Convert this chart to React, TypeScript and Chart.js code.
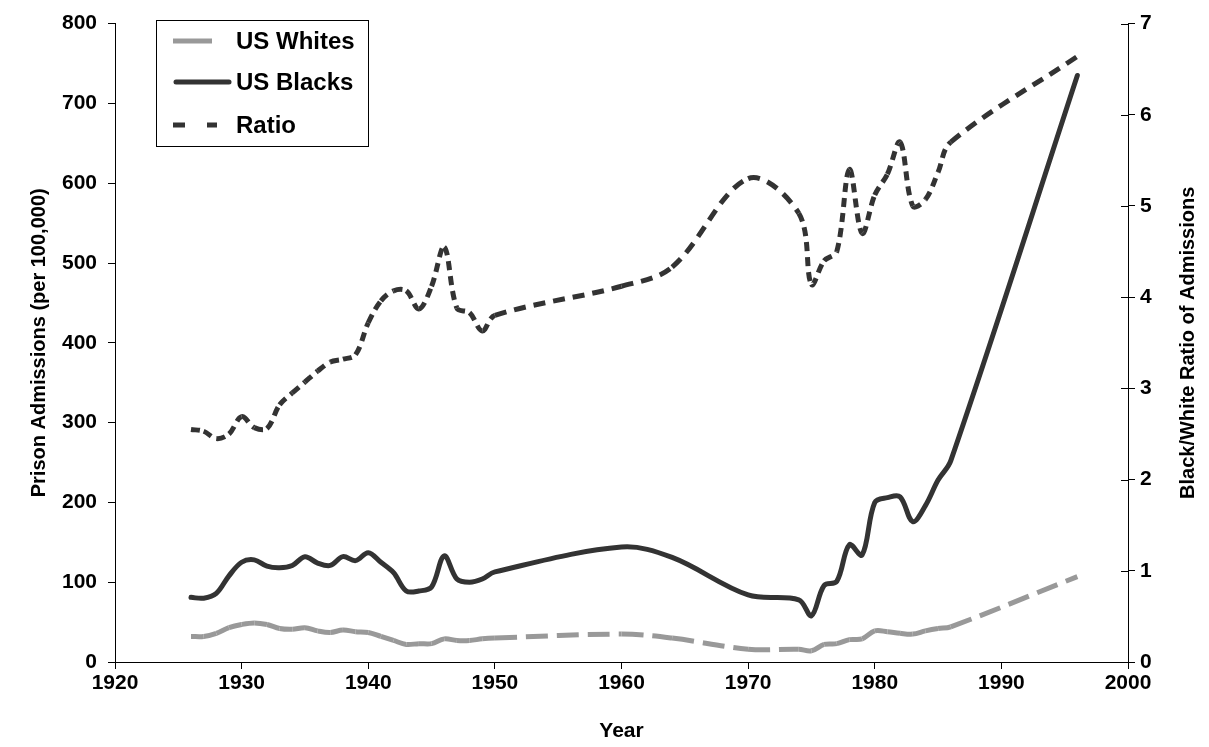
import React, { useEffect, useRef } from "react";
import { Chart, registerables } from "chart.js";

Chart.register(...registerables);

// Years with observations (yearly 1926-1950, sparse afterwards)
const years = [
  1926, 1927, 1928, 1929, 1930, 1931, 1932, 1933, 1934, 1935, 1936, 1937, 1938,
  1939, 1940, 1941, 1942, 1943, 1944, 1945, 1946, 1947, 1948, 1949, 1950,
  1960, 1964, 1970, 1974, 1975, 1976, 1977, 1978, 1979, 1980, 1981, 1982, 1983,
  1984, 1985, 1986, 1996,
];

// Prison admissions per 100,000 — US Blacks
const usBlacks = [
  81, 80, 86, 108, 125, 128, 120, 118, 121, 132, 124, 121, 132,
  127, 137, 125, 112, 89, 89, 94, 133, 104, 100, 104, 113,
  144, 131, 84, 78, 58, 96, 101, 147, 134, 200, 206, 207, 176,
  196, 228, 252, 735,
];

// Prison admissions per 100,000 — US Whites
const usWhites = [
  32, 32, 36, 43, 47, 49, 47, 42, 41, 43, 39, 37, 40,
  38, 37, 32, 27, 22, 23, 23, 29, 27, 27, 29, 30,
  35, 30, 16, 16, 14, 22, 23, 28, 29, 39, 38, 36, 35,
  39, 42, 44, 107,
];

// Black/White ratio of admissions
const ratio = [
  2.55, 2.53, 2.45, 2.5, 2.69, 2.57, 2.56, 2.82, 2.95, 3.07, 3.19, 3.29, 3.32,
  3.37, 3.72, 3.96, 4.07, 4.07, 3.87, 4.12, 4.55, 3.88, 3.83, 3.63, 3.8,
  4.12, 4.33, 5.3, 4.92, 4.14, 4.4, 4.5, 5.4, 4.7, 5.12, 5.35, 5.7, 5.0,
  5.07, 5.37, 5.7, 6.64,
];

const seriesLabels = ["US Whites", "US Blacks", "Ratio"];
const leftTitle = "Prison Admissions (per 100,000)";
const rightTitle = "Black/White Ratio of Admissions";
const bottomTitle = "Year";

const FONT = '"Liberation Sans", Arial, Helvetica, sans-serif';
const DARK = "#333333";
const GRAY = "#999999";

export default function App() {
  const ref = useRef<HTMLCanvasElement>(null);

  useEffect(() => {
    document.body.style.margin = "0";
    const canvas = ref.current;
    if (!canvas) return;

    const pts = (vals: number[]) => years.map((x, i) => ({ x, y: vals[i] }));
    const yearly = (c: any) => years[c.p1DataIndex] - years[c.p0DataIndex] <= 1;
    const alt = (c: any) => (c.p0DataIndex % 2) * 0.01;

    const overlay = {
      id: "overlay",
      afterDatasetsDraw(chart: any) {
        const ctx = chart.ctx as CanvasRenderingContext2D;
        const area = chart.chartArea;
        const y1 = chart.scales.y1;
        ctx.save();
        // inner half of the crossing ticks on the right axis
        ctx.strokeStyle = "#000";
        ctx.lineWidth = 1;
        ctx.beginPath();
        y1.ticks.forEach((t: any) => {
          const py = Math.round(y1.getPixelForValue(t.value)) + 0.5;
          ctx.moveTo(area.right - 7, py);
          ctx.lineTo(area.right, py);
        });
        ctx.stroke();

        // right axis title, reading upwards
        ctx.save();
        ctx.translate(1188, (area.top + area.bottom) / 2);
        ctx.rotate(-Math.PI / 2);
        ctx.font = `bold 20px ${FONT}`;
        ctx.fillStyle = "#000";
        ctx.textAlign = "center";
        ctx.textBaseline = "middle";
        ctx.fillText(rightTitle, 0, 0);
        ctx.restore();

        // legend
        ctx.font = `bold 24px ${FONT}`;
        const textX = 236;
        let maxW = 0;
        seriesLabels.forEach((l) => (maxW = Math.max(maxW, ctx.measureText(l).width)));
        const bx = 156.5;
        const by = 20.5;
        const bw = Math.round(textX + maxW + 14 - bx);
        const bh = 126;
        ctx.fillStyle = "#fff";
        ctx.fillRect(bx, by, bw, bh);
        ctx.strokeStyle = "#000";
        ctx.lineWidth = 1;
        ctx.strokeRect(bx, by, bw, bh);

        const rows = [41, 82, 125];
        ctx.lineWidth = 5;
        // white sample
        ctx.strokeStyle = GRAY;
        ctx.lineCap = "butt";
        ctx.beginPath();
        ctx.moveTo(173, rows[0]);
        ctx.lineTo(212, rows[0]);
        ctx.stroke();
        // black sample
        ctx.strokeStyle = DARK;
        ctx.lineCap = "round";
        ctx.beginPath();
        ctx.moveTo(176, rows[1]);
        ctx.lineTo(229, rows[1]);
        ctx.stroke();
        // ratio sample
        ctx.lineCap = "butt";
        ctx.setLineDash([12, 22]);
        ctx.beginPath();
        ctx.moveTo(173, rows[2]);
        ctx.lineTo(217, rows[2]);
        ctx.stroke();
        ctx.setLineDash([]);

        ctx.fillStyle = "#000";
        ctx.textAlign = "left";
        ctx.textBaseline = "middle";
        seriesLabels.forEach((l, i) => ctx.fillText(l, textX, rows[i] + 1));
        ctx.restore();
      },
    };

    const tickFont = { family: FONT, size: 21, weight: "bold" as const };

    const chart = new Chart(canvas, {
      type: "line",
      data: {
        datasets: [
          {
            label: seriesLabels[0],
            data: pts(usWhites),
            yAxisID: "y",
            borderColor: GRAY,
            borderWidth: 5,
            borderDash: [22, 9],
            borderCapStyle: "butt",
            pointRadius: 0,
            fill: false,
            tension: 0.35,
            segment: {
              borderDash: () => [22, 9],
              borderDashOffset: alt,
            },
          },
          {
            label: seriesLabels[1],
            data: pts(usBlacks),
            yAxisID: "y",
            borderColor: DARK,
            borderWidth: 5,
            borderCapStyle: "round",
            borderJoinStyle: "round",
            pointRadius: 0,
            fill: false,
            tension: 0.35,
          },
          {
            label: seriesLabels[2],
            data: pts(ratio),
            yAxisID: "y1",
            borderColor: DARK,
            borderWidth: 5,
            borderDash: [9, 6],
            borderCapStyle: "butt",
            pointRadius: 0,
            fill: false,
            tension: 0.35,
            segment: {
              borderDash: (c: any) => (yearly(c) ? [9, 6] : [12, 8]),
              borderDashOffset: alt,
            },
          },
        ],
      },
      options: {
        animation: false,
        responsive: false,
        devicePixelRatio: 1,
        layout: { padding: { top: 19, left: 0, right: 0, bottom: 0 } },
        plugins: {
          legend: { display: false },
          tooltip: { enabled: false },
        },
        scales: {
          x: {
            type: "linear",
            min: 1920,
            max: 2000,
            afterFit: (s: any) => {
              s.height = 85;
            },
            ticks: {
              stepSize: 10,
              color: "#000",
              font: tickFont,
              padding: 2,
              maxRotation: 0,
              callback: (v: any) => String(v),
            },
            grid: {
              drawOnChartArea: false,
              drawTicks: true,
              tickLength: 7,
              color: "#000",
              tickColor: "#000",
            },
            border: { display: true, color: "#000", width: 1 },
            title: {
              display: true,
              text: bottomTitle,
              color: "#000",
              font: { family: FONT, size: 21, weight: "bold" },
              padding: { top: 0, bottom: 3 },
            },
          },
          y: {
            type: "linear",
            position: "left",
            min: 0,
            max: 800,
            afterFit: (s: any) => {
              s.width = 115;
            },
            ticks: {
              stepSize: 100,
              color: "#000",
              font: tickFont,
              padding: 11,
            },
            grid: {
              drawOnChartArea: false,
              drawTicks: true,
              tickLength: 7,
              color: "#000",
              tickColor: "#000",
            },
            border: { display: true, color: "#000", width: 1 },
            title: {
              display: true,
              text: leftTitle,
              color: "#000",
              font: { family: FONT, size: 20, weight: "bold" },
              padding: { top: 27, bottom: 0 },
            },
          },
          y1: {
            type: "linear",
            position: "right",
            min: 0,
            max: 7,
            afterFit: (s: any) => {
              s.width = 81;
            },
            ticks: {
              stepSize: 1,
              color: "#000",
              font: tickFont,
              padding: 5,
            },
            grid: {
              drawOnChartArea: false,
              drawTicks: true,
              tickLength: 7,
              color: "#000",
              tickColor: "#000",
            },
            border: { display: true, color: "#000", width: 1 },
          },
        },
      },
      plugins: [overlay],
    } as any);

    return () => chart.destroy();
  }, []);

  return (
    <canvas
      ref={ref}
      width={1209}
      height={747}
      style={{ display: "block", width: 1209, height: 747 }}
    />
  );
}
